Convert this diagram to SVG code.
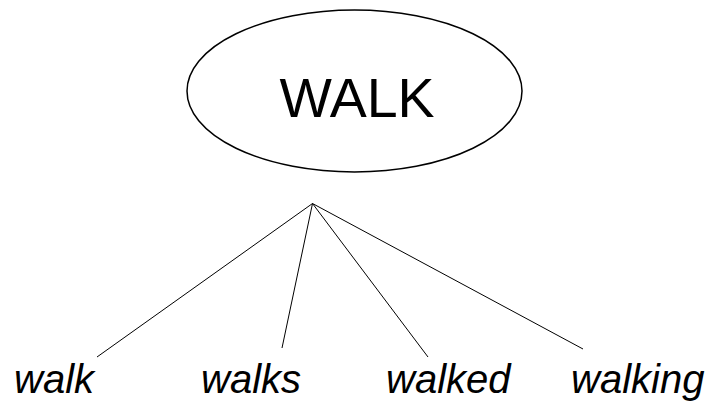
<svg xmlns="http://www.w3.org/2000/svg" width="711" height="401" viewBox="0 0 711 401">
<style>
.node{fill:#fff;stroke:#000;stroke-width:1.5}
.title{font-family:"Liberation Sans",Arial,sans-serif;font-size:55.5px;fill:#000}
.leaf{font-family:"Liberation Sans",Arial,sans-serif;font-size:40px;font-style:italic;fill:#000}
.conn line{stroke:#000;stroke-width:1}
</style>
<rect width="711" height="401" fill="#fff"/>
<g id="walk-root">
<ellipse class="node" cx="354.5" cy="91" rx="167.5" ry="81"/>
<text class="title" x="357" y="117" text-anchor="middle">WALK</text>
</g>
<g id="connectors" class="conn">
<line x1="312.5" y1="203.5" x2="97" y2="357"/>
<line x1="312.5" y1="203.5" x2="282" y2="348"/>
<line x1="312.5" y1="203.5" x2="428" y2="357"/>
<line x1="312.5" y1="203.5" x2="583" y2="349"/>
</g>
<g id="leaf-walk"><text class="leaf" x="14" y="393">walk</text></g>
<g id="leaf-walks"><text class="leaf" x="201" y="393">walks</text></g>
<g id="leaf-walked"><text class="leaf" x="386" y="393">walked</text></g>
<g id="leaf-walking"><text class="leaf" x="571" y="393">walking</text></g>
</svg>
